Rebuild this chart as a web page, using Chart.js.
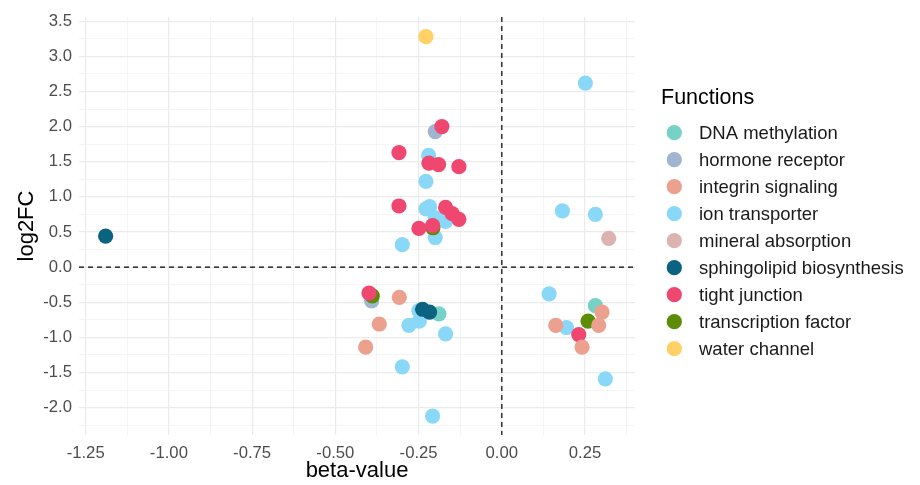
<!DOCTYPE html>
<html lang="en">
<head>
    <meta charset="UTF-8">
    <title>beta-value vs log2FC</title>
    <script src="https://cdn.jsdelivr.net/npm/chart.js@4.4.1/dist/chart.umd.min.js"></script>
</head>
<style>
    body { margin: 0; background: #fff; }
</style>
<body>
    <canvas id="chart" width="920" height="485"></canvas>
</body>
<script>
    // function categories (legend order)
    const functions = ['DNA methylation', 'hormone receptor', 'integrin signaling', 'ion transporter',
        'mineral absorption', 'sphingolipid biosynthesis', 'tight junction', 'transcription factor', 'water channel'];
    const colors = ['#76d1c7', '#a0b5cf', '#eca08e', '#8ad8f8', '#dcb3b1', '#0c6380', '#ef476f', '#5d8c05', '#ffd166'];
    // which group sits on top when points overlap (0 = top)
    const drawOrder = [4, 5, 0, 7, 6, 2, 1, 3, 8];

    // beta-value (x) and log2FC (y)
    const dnaX = [-0.189, 0.281];
    const dnaY = [-0.665, -0.549];
    const hormoneX = [-0.200, -0.391];
    const hormoneY = [1.93, -0.48];
    const integrinX = [-0.308, -0.368, -0.409, 0.301, 0.291, 0.162, 0.241];
    const integrinY = [-0.43, -0.81, -1.14, -0.64, -0.83, -0.83, -1.14];
    const ionX = [0.251, 0.182, 0.281, 0.142, 0.194, 0.311, -0.220, -0.228, -0.228, -0.217, -0.200, -0.169,
        -0.200, -0.299, -0.249, -0.279, -0.248, -0.169, -0.299, -0.208];
    const ionY = [2.62, 0.80, 0.75, -0.38, -0.86, -1.59, 1.59, 1.22, 0.83, 0.86, 0.70, 0.65,
        0.42, 0.32, -0.62, -0.83, -0.77, -0.95, -1.42, -2.12];
    const mineralX = [0.321];
    const mineralY = [0.41];
    const sphingoX = [-1.19, -0.238, -0.217];
    const sphingoY = [0.44, -0.60, -0.64];
    const tightX = [-0.180, -0.309, -0.219, -0.190, -0.129, -0.309, -0.169, -0.149, -0.129, -0.249, -0.208, -0.399, 0.231];
    const tightY = [2.00, 1.63, 1.48, 1.46, 1.43, 0.87, 0.85, 0.76, 0.68, 0.55, 0.59, -0.37, -0.96];
    const tfX = [-0.207, -0.389, 0.259];
    const tfY = [0.56, -0.41, -0.77];
    const waterX = [-0.228];
    const waterY = [3.28];

    const groupX = [dnaX, hormoneX, integrinX, ionX, mineralX, sphingoX, tightX, tfX, waterX];
    const groupY = [dnaY, hormoneY, integrinY, ionY, mineralY, sphingoY, tightY, tfY, waterY];

    // tick positions (major + minor gridlines)
    const xTicks = [-1.25, -1.125, -1.0, -0.875, -0.75, -0.625, -0.5, -0.375, -0.25, -0.125, 0, 0.125, 0.25, 0.375];
    const yTicks = [-2.25, -2.0, -1.75, -1.5, -1.25, -1.0, -0.75, -0.5, -0.25, 0, 0.25, 0.5, 0.75, 1.0,
        1.25, 1.5, 1.75, 2.0, 2.25, 2.5, 2.75, 3.0, 3.25, 3.5];

    const FONT = "'Liberation Sans', Arial, sans-serif";
    const isMajorX = v => Math.abs(v / 0.25 - Math.round(v / 0.25)) < 1e-6;
    const isMajorY = v => Math.abs(v / 0.5 - Math.round(v / 0.5)) < 1e-6;

    const datasets = functions.map((name, i) => ({
        label: name,
        data: groupX[i].map((x, j) => ({ x: x, y: groupY[i][j] })),
        backgroundColor: colors[i],
        borderWidth: 0,
        pointRadius: 7.6,
        pointHoverRadius: 7.6,
        order: drawOrder[i]
    }));

    // dashed reference lines at x = 0 and y = 0
    const zeroLines = {
        id: 'zeroLines',
        afterDatasetsDraw(chart) {
            const { ctx, chartArea: a, scales } = chart;
            const px = scales.x.getPixelForValue(0);
            const py = scales.y.getPixelForValue(0);
            ctx.save();
            ctx.strokeStyle = '#000';
            ctx.lineWidth = 1.2;
            ctx.setLineDash([5, 4]);
            ctx.beginPath();
            ctx.moveTo(a.left, py); ctx.lineTo(a.right, py);
            ctx.moveTo(px, a.top); ctx.lineTo(px, a.bottom);
            ctx.stroke();
            ctx.restore();
        }
    };

    // legend drawn to the right like the ggplot guide
    const sideLegend = {
        id: 'sideLegend',
        afterDraw(chart) {
            const ctx = chart.ctx;
            ctx.save();
            ctx.fillStyle = '#000';
            ctx.textBaseline = 'middle';
            ctx.textAlign = 'left';
            ctx.font = '21.5px ' + FONT;
            ctx.fillText('Functions', 661, 98);
            ctx.font = '18.5px ' + FONT;
            functions.forEach((name, i) => {
                const y = 132.7 + i * 27;
                ctx.fillStyle = colors[i];
                ctx.beginPath();
                ctx.arc(674.3, y, 7.6, 0, Math.PI * 2);
                ctx.fill();
                ctx.fillStyle = '#1a1a1a';
                ctx.fillText(name, 699, y + 1);
            });
            ctx.restore();
        }
    };

    const ctx = document.getElementById('chart').getContext('2d');
    const myChart = new Chart(ctx, {
        type: 'scatter',
        data: { datasets: datasets },
        plugins: [zeroLines, sideLegend],
        options: {
            responsive: false,
            animation: false,
            devicePixelRatio: 1,
            layout: { padding: { left: 0, right: 285, top: 12, bottom: 0 } },
            plugins: { legend: { display: false }, tooltip: { enabled: false } },
            scales: {
                x: {
                    type: 'linear',
                    min: -1.27,
                    max: 0.40,
                    afterBuildTicks: scale => { scale.ticks = xTicks.map(v => ({ value: v })); },
                    afterFit: scale => { scale.height = 50; },
                    border: { display: false },
                    grid: {
                        drawTicks: false,
                        color: c => (c.tick && isMajorX(c.tick.value)) ? '#ebebeb' : '#f3f3f3',
                        lineWidth: c => (c.tick && isMajorX(c.tick.value)) ? 1.2 : 0.8
                    },
                    ticks: {
                        autoSkip: false,
                        maxRotation: 0,
                        padding: 8,
                        color: '#4d4d4d',
                        font: { family: FONT, size: 16.7 },
                        callback: v => isMajorX(v) ? v.toFixed(2) : ''
                    },
                    title: {
                        display: true,
                        text: 'beta-value',
                        color: '#000',
                        font: { family: FONT, size: 22 },
                        padding: { top: 0, bottom: 1 }
                    }
                },
                y: {
                    type: 'linear',
                    min: -2.39,
                    max: 3.56,
                    afterBuildTicks: scale => { scale.ticks = yTicks.map(v => ({ value: v })); },
                    afterFit: scale => { scale.width = 79; },
                    border: { display: false },
                    grid: {
                        drawTicks: false,
                        color: c => (c.tick && isMajorY(c.tick.value)) ? '#ebebeb' : '#f3f3f3',
                        lineWidth: c => (c.tick && isMajorY(c.tick.value)) ? 1.2 : 0.8
                    },
                    ticks: {
                        autoSkip: false,
                        padding: 7,
                        color: '#4d4d4d',
                        font: { family: FONT, size: 16.7 },
                        callback: v => isMajorY(v) ? v.toFixed(1) : ''
                    },
                    title: {
                        display: true,
                        text: 'log2FC',
                        color: '#000',
                        font: { family: FONT, size: 22 },
                        padding: { top: 14, bottom: 0 }
                    }
                }
            }
        }
    });
</script>
</html>
